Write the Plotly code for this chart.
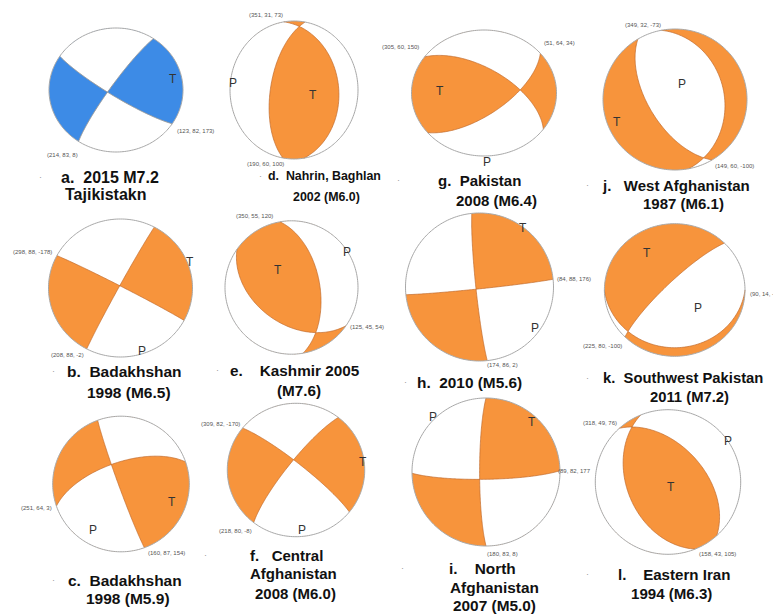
import numpy as np
import plotly.graph_objects as go

# ---------------- data ----------------
panel_ids = ["a", "b", "c", "d", "e", "f", "g", "h", "i", "j", "k", "l"]
strike1 = [214, 298, 251, 351, 350, 309, 305, 84, 89, 349, 225, 318]
dip1 = [83, 88, 64, 31, 55, 82, 60, 88, 82, 32, 80, 49]
rake1 = [8, -178, 3, 73, 120, -170, 150, 176, 177, -73, -100, 76]
strike2 = [123, 208, 160, 190, 125, 218, 51, 174, 180, 149, 90, 158]
dip2 = [82, 88, 87, 60, 45, 80, 64, 86, 83, 60, 14, 43]
rake2 = [173, -2, 154, 100, 54, -8, 34, 2, 8, -100, -40, 105]
title_lines = [
    ["a.\u00a0\u00a02015 M7.2", "Tajikistakn"],
    ["b.\u00a0\u00a0Badakhshan", "1998 (M6.5)"],
    ["c.\u00a0\u00a0Badakhshan", "1998 (M5.9)"],
    ["d.\u00a0\u00a0Nahrin, Baghlan", "2002 (M6.0)"],
    ["e.\u00a0\u00a0\u00a0\u00a0Kashmir 2005", "(M7.6)"],
    ["f.\u00a0\u00a0\u00a0Central", "Afghanistan", "2008 (M6.0)"],
    ["g.\u00a0\u00a0Pakistan", "2008 (M6.4)"],
    ["h.\u00a0\u00a02010 (M5.6)"],
    ["i.\u00a0\u00a0\u00a0\u00a0North", "Afghanistan", "2007 (M5.0)"],
    ["j.\u00a0\u00a0\u00a0West Afghanistan", "1987 (M6.1)"],
    ["k.\u00a0\u00a0Southwest Pakistan", "2011 (M7.2)"],
    ["l.\u00a0\u00a0\u00a0\u00a0Eastern Iran", "1994 (M6.3)"],
]

# ---------------- layout / style ----------------
W, H = 781, 615
PAGE_OFF = 8  # default body margin of the html page
# ball centre and radii (pixels)
ball_cx = [116, 120.5, 121, 294, 291.5, 296, 484, 479.5, 486, 675, 674.7, 668]
ball_cy = [90, 288, 484, 90, 287.5, 470, 93, 287, 472, 99.5, 290, 482]
ball_rx = [67, 72, 68.3, 64, 66.5, 68.7, 72.5, 74, 74, 72, 70.3, 72.7]
ball_ry = [62, 69, 67.8, 69, 66.7, 66.7, 63, 74, 74, 70.5, 66.3, 72.3]
fill_colors = ["#3d8be6"] + ["#f7943c"] * 11
nodal_colors = ["#9a9a9a"] + ["#c06a2c"] * 11
nodal_widths = [1.0] + [0.7] * 11

title_x = [[109.5, 106], [124.5, 128.5], [124.5, 128], [324, 326], [295, 298.5],
           [286.5, 293, 295.5], [479, 496.5], [469.5], [482.5, 494, 494.5],
           [676, 683.5], [682.5, 689], [674, 671]]
title_y = [[177, 194], [371, 392], [580, 598], [176, 197], [370, 390], [555, 573, 593],
           [180, 200], [382], [568, 587, 605], [185, 203], [378, 397], [574, 593]]
title_size = [16, 15.5, 15.5, 12.4, 15.3, 15, 15, 15.4, 15.4, 15, 14.8, 15.1]
bullet_xy = [(40, 177), (53, 371), (53, 580), (260, 176), (217, 370), (205, 555),
             (398, 180), (405, 382), (402, 568), (587, 185), (587, 378), (587, 574)]

# plane labels: (x, y, anchor) for plane1 and plane2
lab1 = [(62, 155, "center"), (32, 252, "center"), (36, 508, "center"), (266, 15, "center"),
        (254, 216, "center"), (220, 424, "center"), (400, 47, "center"), (555, 279, "left"),
        (556, 471, "left"), (643, 25, "center"), (602, 346, "center"), (600, 423, "center")]
lab2 = [(175, 131, "left"), (67, 355, "center"), (166, 553, "center"), (265, 164, "center"),
        (367, 327, "center"), (235, 531, "center"), (559, 43, "center"), (502, 365, "center"),
        (502, 554, "center"), (734, 166, "center"), (748, 294, "left"), (717, 554, "center")]
lab1_text_override = {8: "(89, 82, 177"}
lab2_text_override = {10: "(90, 14, -40"}

# T / P letters
t_xy = [(173, 79), (190, 262), (172, 502), (313, 95), (278, 270), (363, 462),
        (440, 91), (523, 228), (532, 422), (617, 122), (647, 253), (671, 487)]
p_xy = [None, (142, 351), (93, 530), (233, 83), (347, 252), (302, 530),
        (487, 162), (535, 328), (433, 417), (682, 84), (698, 308), (728, 441)]

FONT = "Liberation Sans, Arial, sans-serif"


# ---------------- geometry ----------------
def proj(v, cx, cy, rx, ry):
    vn, ve, vd = v
    vd = np.clip(vd, -1.0, 1.0)
    p = np.arcsin(vd)
    az = np.arctan2(ve, vn)
    r = np.sqrt(2.0) * np.sin((np.pi / 2 - p) / 2.0)   # equal-area, lower hemisphere
    return cx + rx * r * np.sin(az), cy - ry * r * np.cos(az)


def plane_curve(strike, dip, n=121):
    phi, dl = np.radians(strike), np.radians(dip)
    t = np.linspace(0, np.pi, n)
    s = np.array([np.cos(phi), np.sin(phi), 0.0])
    dd = np.array([np.cos(dl) * np.cos(phi + np.pi / 2), np.cos(dl) * np.sin(phi + np.pi / 2), np.sin(dl)])
    v = np.outer(np.cos(t), s) + np.outer(np.sin(t), dd)
    return v.T


def crescent(strike, dip, cx, cy, rx, ry):
    xs, ys = proj(plane_curve(strike, dip), cx, cy, rx, ry)
    phi = np.radians(strike)
    az = np.linspace(phi + np.pi, phi, 121)
    ax, ay = cx + rx * np.sin(az), cy - ry * np.cos(az)
    return np.concatenate([xs, ax]), np.concatenate([ys, ay])


def circle_pts(cx, cy, rx, ry, n=241):
    az = np.linspace(0, 2 * np.pi, n)
    return cx + rx * np.sin(az), cy - ry * np.cos(az)


def to_path(xs, ys, close=True):
    pts = " L".join(f"{x:.2f},{y:.2f}" for x, y in zip(xs, ys))
    return "M" + pts + (" Z" if close else "")


def normal(strike, dip):
    phi, dl = np.radians(strike), np.radians(dip)
    return np.array([-np.sin(dl) * np.sin(phi), np.sin(dl) * np.cos(phi), -np.cos(dl)])


def slip(strike, dip, rake):
    phi, dl, lam = np.radians(strike), np.radians(dip), np.radians(rake)
    return np.array([np.cos(lam) * np.cos(phi) + np.cos(dl) * np.sin(lam) * np.sin(phi),
                     np.cos(lam) * np.sin(phi) - np.cos(dl) * np.sin(lam) * np.cos(phi),
                     -np.sin(lam) * np.sin(dl)])


shapes = []
annotations = []
for i in range(len(panel_ids)):
    cx, cy, rx, ry = ball_cx[i], ball_cy[i], ball_rx[i], ball_ry[i]
    cxs, cys = circle_pts(cx, cy, rx, ry)
    circ = to_path(cxs, cys)
    shapes.append(dict(type="path", path=circ, xref="x", yref="y",
                       fillcolor="white", line=dict(width=0), layer="above"))
    ax_, ay_ = crescent(strike1[i], dip1[i], cx, cy, rx, ry)
    bx_, by_ = crescent(strike2[i], dip2[i], cx, cy, rx, ry)
    d = slip(strike1[i], dip1[i], rake1[i])
    s2 = np.dot(d, normal(strike2[i], dip2[i]))
    path = to_path(ax_, ay_) + " " + to_path(bx_, by_)
    if s2 > 0:
        path = circ + " " + path
    shapes.append(dict(type="path", path=path, xref="x", yref="y", fillrule="evenodd",
                       fillcolor=fill_colors[i], line=dict(width=0), layer="above"))
    for stk, dp in ((strike1[i], dip1[i]), (strike2[i], dip2[i])):
        xs, ys = proj(plane_curve(stk, dp), cx, cy, rx, ry)
        shapes.append(dict(type="path", path=to_path(xs, ys, close=False),
                           xref="x", yref="y",
                           line=dict(color=nodal_colors[i], width=nodal_widths[i]), layer="above"))
    shapes.append(dict(type="path", path=circ, xref="x", yref="y",
                       fillcolor="rgba(0,0,0,0)", line=dict(color="#a8a8a8", width=1), layer="above"))

    # titles
    for txt, tx, ty in zip(title_lines[i], title_x[i], title_y[i]):
        annotations.append(dict(x=tx, y=ty, xref="x", yref="y", text=f"<b>{txt}</b>",
                                showarrow=False, xanchor="center", yanchor="middle",
                                font=dict(family=FONT, size=title_size[i], color="#111111")))
    bx, by = bullet_xy[i]
    annotations.append(dict(x=bx, y=by, xref="x", yref="y", text="·", showarrow=False,
                            font=dict(family=FONT, size=9, color="#999999")))
    # plane labels
    t1 = lab1_text_override.get(i, f"({strike1[i]}, {dip1[i]}, {rake1[i]})")
    t2 = lab2_text_override.get(i, f"({strike2[i]}, {dip2[i]}, {rake2[i]})")
    for (lx, ly, anc), tt in ((lab1[i], t1), (lab2[i], t2)):
        annotations.append(dict(x=lx, y=ly, xref="x", yref="y", text=tt, showarrow=False,
                                xanchor=anc, yanchor="middle",
                                font=dict(family=FONT, size=6, color="#555555")))
    # T / P
    for letter, xy in (("T", t_xy[i]), ("P", p_xy[i])):
        if xy is None:
            continue
        annotations.append(dict(x=xy[0], y=xy[1], xref="x", yref="y", text=letter, showarrow=False,
                                xanchor="center", yanchor="middle",
                                font=dict(family=FONT, size=12, color="#333333")))

fig = go.Figure()
fig.add_trace(go.Scatter(x=[PAGE_OFF, W], y=[PAGE_OFF, H], mode="markers", marker=dict(opacity=0),
                         hoverinfo="skip", showlegend=False))
fig.update_layout(
    width=W - PAGE_OFF, height=H - PAGE_OFF, autosize=False,
    margin=dict(l=0, r=0, t=0, b=0),
    paper_bgcolor="white", plot_bgcolor="white",
    xaxis=dict(range=[PAGE_OFF, W], visible=False, fixedrange=True),
    yaxis=dict(range=[H, PAGE_OFF], visible=False, fixedrange=True),
    shapes=shapes, annotations=annotations, showlegend=False,
)
fig.write_html("out.html", config={"displayModeBar": False})
